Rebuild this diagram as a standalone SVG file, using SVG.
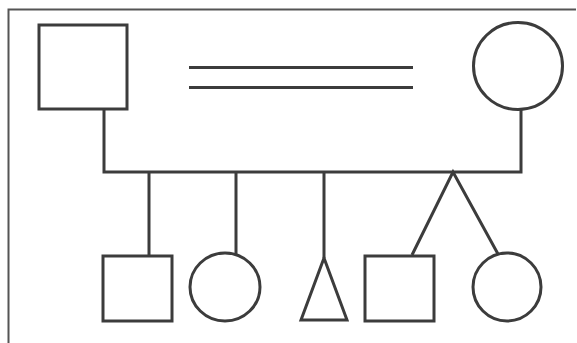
<svg xmlns="http://www.w3.org/2000/svg" width="577" height="343" viewBox="0 0 577 343">
<style>
.s{fill:#fff;stroke:#3c3c3c;stroke-width:3}
.c{fill:none;stroke:#3c3c3c;stroke-width:3}
.b{fill:none;stroke:#555;stroke-width:2}
</style>
<rect width="577" height="343" fill="#fff"/>
<path class="b" d="M8.5,343 V9.5 H576"/>
<g id="father"><rect class="s" x="39" y="25" width="88" height="84"/></g>
<g id="mother"><ellipse class="s" cx="518" cy="66" rx="44.5" ry="43.5"/></g>
<g id="child-son"><rect class="s" x="103" y="256" width="69" height="65"/></g>
<g id="child-daughter"><ellipse class="s" cx="225" cy="287" rx="35" ry="34"/></g>
<g id="child-unknown"><polygon class="s" points="324,258 301,320 347,320"/></g>
<g id="twin-son"><rect class="s" x="365" y="256" width="69" height="65"/></g>
<g id="twin-daughter"><ellipse class="s" cx="507" cy="287" rx="34" ry="34"/></g>
<g id="connectors">
<path class="c" d="M189,67.5 H413 M189,87.5 H413"/>
<path class="c" d="M104,109 V172 H521 V110"/>
<path class="c" d="M149,172 V256 M236,172 V255 M324,172 V258"/>
<path class="c" d="M412,255 L453,172 L498,254"/>
</g>
</svg>
